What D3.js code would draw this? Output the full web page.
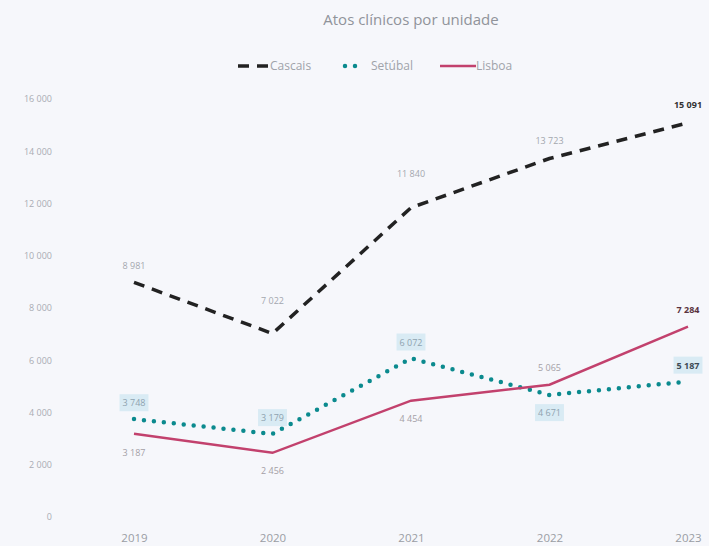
<!DOCTYPE html>
<html>
<head>
<meta charset="utf-8">
<script src="https://cdn.jsdelivr.net/npm/d3@7"></script>
<style>
  body { margin: 0; background: #f6f7fb; }
  svg { display: block; font-family: "Open Sans", sans-serif; }
</style>
</head>
<body>
<div id="chart"></div>
<script>
"use strict";

var years = ["2019", "2020", "2021", "2022", "2023"];
var cascais = [8981, 7022, 11840, 13723, 15091];
var setubal = [3748, 3179, 6072, 4671, 5187];
var lisboa = [3187, 2456, 4454, 5065, 7284];
var yTicks = [0, 2000, 4000, 6000, 8000, 10000, 12000, 14000, 16000];

// label placement: offset in px (negative = above the point)
var cascaisLabelDy = [-17, -33, -34, -18, -18];
var setubalLabelDy = [-16, -16, -16, 18, -16];
var lisboaLabelDy = [19, 18, 18, -17, -17];

var w = 709, h = 546;

var pt = d3.formatLocale({ decimal: ",", thousands: " ", grouping: [3], currency: ["", " €"] });
var fmt = pt.format(",d");

var svg = d3.select("#chart")
    .append("svg")
    .attr("width", w)
    .attr("height", h);

var x = d3.scalePoint()
    .domain(years)
    .range([134, 688]);

var y = d3.scaleLinear()
    .domain([0, 16000])
    .range([517, 99]);

// title
svg.append("text")
    .attr("x", 411)
    .attr("y", 25)
    .attr("text-anchor", "middle")
    .attr("fill", "#90939a")
    .style("font-size", "15px")
    .text("Atos clínicos por unidade");

// y axis
var yAxis = svg.append("g")
    .attr("transform", "translate(52,0)")
    .call(d3.axisLeft(y).tickValues(yTicks).tickSize(0).tickPadding(0).tickFormat(fmt));
yAxis.select(".domain").remove();
yAxis.selectAll("text")
    .attr("fill", "#a9acb3")
    .style("font-size", "9px")
    .style("font-family", "Open Sans, sans-serif");

// x axis
var xAxis = svg.append("g")
    .attr("transform", "translate(0,534)")
    .call(d3.axisBottom(x).tickSize(0).tickPadding(0));
xAxis.select(".domain").remove();
xAxis.selectAll("text")
    .attr("fill", "#9a9da4")
    .style("font-size", "11.5px")
    .style("font-family", "Open Sans, sans-serif");

var line = d3.line()
    .x(function(d, i){ return x(years[i]); })
    .y(function(d){ return y(d); });

var series = [
    { name: "Cascais", values: cascais, color: "#222222", width: 3.5, dash: "11,8", cap: "butt", dy: cascaisLabelDy },
    { name: "Setúbal", values: setubal, color: "#0b8a8e", width: 4.5, dash: "0,10", cap: "round", dy: setubalLabelDy },
    { name: "Lisboa", values: lisboa, color: "#c2416d", width: 2.5, dash: null, cap: "butt", dy: lisboaLabelDy }
];

series.forEach(function(s){
    svg.append("path")
        .datum(s.values)
        .attr("fill", "none")
        .attr("stroke", s.color)
        .attr("stroke-width", s.width)
        .attr("stroke-linecap", s.cap)
        .attr("stroke-dasharray", s.dash)
        .attr("d", line);
});

// labels
function addLabels(s, boxed, textColor, lastColor){
    var g = svg.append("g");
    s.values.forEach(function(v, i){
        var last = i == s.values.length - 1;
        var lx = x(years[i]);
        var ly = y(v) + s.dy[i];
        var t = g.append("text")
            .attr("x", lx)
            .attr("y", ly)
            .attr("dy", "0.35em")
            .attr("text-anchor", "middle")
            .attr("fill", last ? lastColor : textColor)
            .style("font-size", "9px")
            .style("font-weight", last ? "700" : "400")
            .text(fmt(v));
        if(boxed){
            var bb = t.node().getBBox();
            g.insert("rect", "text")
                .attr("x", bb.x - 3)
                .attr("y", bb.y - 2)
                .attr("width", bb.width + 6)
                .attr("height", bb.height + 4)
                .attr("fill", "#d9ebf4");
        }
    });
}
addLabels(series[0], false, "#a4a7ae", "#333333");
addLabels(series[1], true, "#8fa3b0", "#3d4a55");
addLabels(series[2], false, "#a4a0a6", "#5a3340");

// legend
var legend = svg.append("g").attr("transform", "translate(0,66)");
var legendX = [238, 345, 440];
var iconW = [32, 18, 36];
series.forEach(function(s, i){
    legend.append("line")
        .attr("x1", legendX[i])
        .attr("x2", legendX[i] + iconW[i])
        .attr("y1", 0)
        .attr("y2", 0)
        .attr("stroke", s.color)
        .attr("stroke-width", s.width)
        .attr("stroke-linecap", s.cap)
        .attr("stroke-dasharray", s.dash);
    legend.append("text")
        .attr("x", legendX[i] + iconW[i] + (i == 1 ? 8 : 0))
        .attr("y", 0)
        .attr("dy", "0.35em")
        .attr("fill", "#a0a3aa")
        .style("font-size", "12px")
        .text(s.name);
});
</script>
</body>
</html>
